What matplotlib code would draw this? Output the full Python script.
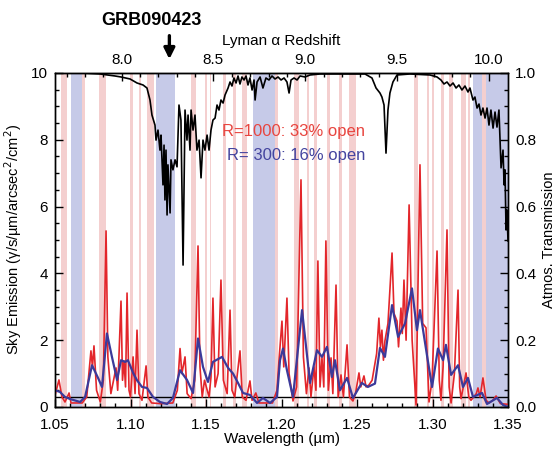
import matplotlib
matplotlib.use("Agg")
import matplotlib.pyplot as plt
from matplotlib.ticker import MultipleLocator, FixedLocator, FormatStrFormatter

plt.rcParams['font.family'] = ['Liberation Sans', 'DejaVu Sans']

# open windows (wavelength ranges, um)
pink_windows = [(1.0540, 1.0579), (1.0679, 1.0699), (1.0791, 1.0838), (1.0997, 1.1017),
                (1.1056, 1.1070), (1.1109, 1.1156), (1.1401, 1.1434), (1.1493, 1.1507),
                (1.1526, 1.1533), (1.1613, 1.1632), (1.1679, 1.1699), (1.1738, 1.1772),
                (1.1957, 1.1977), (1.2083, 1.2116), (1.2169, 1.2182), (1.2215, 1.2235),
                (1.2301, 1.2321), (1.2381, 1.2401), (1.2447, 1.2493), (1.2877, 1.2904),
                (1.2963, 1.2977), (1.2997, 1.3010), (1.3056, 1.3076), (1.3109, 1.3136),
                (1.3189, 1.3222), (1.3235, 1.3248), (1.3328, 1.3354)]
blue_windows = [(1.0606, 1.0679), (1.1169, 1.1295), (1.1811, 1.1957),
                (1.3268, 1.3328), (1.3354, 1.3500)]

# R=1000 sky emission
red_wl = [1.0500, 1.0526, 1.0546, 1.0566, 1.0593, 1.0606, 1.0680, 1.0710, 1.0738, 1.0748,
          1.0758, 1.0775, 1.0800, 1.0820, 1.0838, 1.0850, 1.0870, 1.0904, 1.0915, 1.0937,
          1.0947, 1.0957, 1.0967, 1.0977, 1.0990, 1.1000, 1.1017, 1.1030, 1.1043, 1.1056,
          1.1076, 1.1103, 1.1115, 1.1140, 1.1200, 1.1280, 1.1310, 1.1328, 1.1340, 1.1361,
          1.1375, 1.1401, 1.1425, 1.1447, 1.1460, 1.1475, 1.1490, 1.1520, 1.1533, 1.1546,
          1.1560, 1.1580, 1.1599, 1.1615, 1.1640, 1.1659, 1.1672, 1.1690, 1.1725, 1.1740,
          1.1765, 1.1791, 1.1805, 1.1830, 1.1850, 1.1940, 1.1970, 1.1985, 1.2003, 1.2015,
          1.2036, 1.2050, 1.2076, 1.2100, 1.2129, 1.2145, 1.2165, 1.2182, 1.2195, 1.2215,
          1.2228, 1.2241, 1.2255, 1.2268, 1.2280, 1.2294, 1.2310, 1.2328, 1.2340, 1.2361,
          1.2375, 1.2394, 1.2410, 1.2434, 1.2450, 1.2473, 1.2490, 1.2513, 1.2525, 1.2546,
          1.2560, 1.2579, 1.2600, 1.2630, 1.2645, 1.2655, 1.2665, 1.2675, 1.2685, 1.2705,
          1.2732, 1.2745, 1.2765, 1.2775, 1.2791, 1.2800, 1.2811, 1.2825, 1.2845, 1.2865,
          1.2891, 1.2917, 1.2935, 1.2957, 1.2977, 1.2997, 1.3030, 1.3045, 1.3056, 1.3070,
          1.3096, 1.3110, 1.3123, 1.3145, 1.3169, 1.3180, 1.3189, 1.3222, 1.3240, 1.3255,
          1.3290, 1.3301, 1.3315, 1.3334, 1.3355, 1.3374, 1.3400, 1.3421, 1.3450, 1.3500]
red_flux = [0.35, 0.81, 0.30, 0.15, 0.42, 0.12, 0.12, 0.30, 1.68, 1.20,
            1.83, 0.50, 0.15, 0.80, 5.27, 1.50, 0.40, 1.17, 0.50, 3.17,
            0.80, 1.38, 0.60, 3.41, 0.50, 0.30, 1.50, 0.40, 2.30, 0.40,
            0.20, 1.23, 0.30, 0.12, 0.10, 0.12, 0.50, 1.75, 1.00, 1.50,
            0.40, 0.25, 0.80, 4.82, 1.20, 0.30, 0.80, 0.30, 0.90, 3.26,
            0.60, 1.00, 3.80, 0.80, 0.40, 2.90, 0.50, 0.30, 1.68, 0.30,
            0.20, 0.78, 0.20, 0.42, 0.12, 0.12, 0.50, 1.50, 2.57, 1.20,
            3.26, 1.00, 0.18, 0.60, 6.80, 1.50, 0.40, 1.17, 0.30, 1.20,
            0.50, 4.37, 0.60, 1.47, 0.60, 4.97, 0.50, 1.47, 0.40, 3.65,
            0.30, 0.96, 0.30, 1.86, 0.30, 0.18, 0.40, 1.02, 0.60, 0.93,
            0.60, 0.66, 0.80, 1.60, 2.66, 1.80, 2.30, 1.40, 1.98, 2.50,
            4.61, 2.80, 2.57, 1.80, 2.96, 2.20, 3.80, 2.00, 6.05, 2.00,
            0.06, 7.25, 2.50, 2.37, 0.15, 0.80, 4.67, 0.80, 0.20, 1.20,
            5.30, 0.60, 0.12, 1.00, 3.50, 0.60, 0.25, 1.02, 0.30, 0.20,
            0.40, 0.57, 0.30, 0.87, 0.20, 0.12, 0.20, 0.33, 0.10, 0.08]

# R=300 sky emission
blue_wl = [1.0500, 1.0533, 1.0566, 1.0599, 1.0666, 1.0699, 1.0745, 1.0785, 1.0811, 1.0844,
           1.0877, 1.0911, 1.0937, 1.0964, 1.0983, 1.1017, 1.1043, 1.1076, 1.1109, 1.1149,
           1.1195, 1.1242, 1.1281, 1.1328, 1.1374, 1.1414, 1.1447, 1.1480, 1.1513, 1.1546,
           1.1606, 1.1646, 1.1679, 1.1712, 1.1745, 1.1791, 1.1838, 1.1877, 1.1924, 1.1970,
           1.1990, 1.2010, 1.2036, 1.2076, 1.2136, 1.2189, 1.2235, 1.2268, 1.2301, 1.2334,
           1.2354, 1.2387, 1.2434, 1.2473, 1.2532, 1.2572, 1.2619, 1.2652, 1.2685, 1.2732,
           1.2772, 1.2818, 1.2864, 1.2897, 1.2917, 1.2963, 1.2997, 1.3036, 1.3070, 1.3089,
           1.3123, 1.3169, 1.3202, 1.3235, 1.3268, 1.3328, 1.3361, 1.3427, 1.3467, 1.3500]
blue_flux = [0.50, 0.45, 0.30, 0.24, 0.15, 0.30, 1.25, 0.87, 0.60, 2.20,
             1.50, 0.81, 1.40, 1.35, 1.40, 1.02, 0.80, 0.60, 0.57, 0.30,
             0.15, 0.09, 0.27, 1.10, 0.81, 0.42, 2.05, 1.20, 0.75, 1.35,
             1.50, 1.17, 1.00, 0.72, 0.42, 0.36, 0.12, 0.27, 0.12, 0.30,
             1.40, 1.75, 1.10, 0.30, 2.90, 0.72, 1.70, 1.50, 1.80, 0.90,
             1.40, 0.50, 0.87, 0.27, 0.72, 0.60, 0.70, 1.77, 1.50, 3.05,
             2.10, 2.50, 3.55, 2.30, 2.90, 1.56, 0.60, 1.75, 1.40, 1.86,
             0.96, 1.25, 0.60, 0.87, 0.30, 0.42, 0.09, 0.27, 0.06, 0.00]

# atmospheric transmission
trans_wl = [1.0500, 1.0666, 1.0798, 1.0897, 1.0937, 1.0997, 1.1043, 1.1083, 1.1109, 1.1129,
            1.1142, 1.1162, 1.1169, 1.1182, 1.1195, 1.1202, 1.1215, 1.1222, 1.1228, 1.1235,
            1.1242, 1.1248, 1.1262, 1.1268, 1.1281, 1.1295, 1.1308, 1.1321, 1.1334, 1.1348,
            1.1361, 1.1374, 1.1381, 1.1394, 1.1401, 1.1414, 1.1427, 1.1440, 1.1454, 1.1467,
            1.1480, 1.1493, 1.1507, 1.1520, 1.1533, 1.1546, 1.1560, 1.1573, 1.1586, 1.1599,
            1.1613, 1.1626, 1.1646, 1.1659, 1.1672, 1.1685, 1.1699, 1.1712, 1.1725, 1.1738,
            1.1752, 1.1765, 1.1778, 1.1791, 1.1805, 1.1818, 1.1825, 1.1838, 1.1858, 1.1877,
            1.1897, 1.1917, 1.1937, 1.1957, 1.1977, 1.1997, 1.2017, 1.2036, 1.2050, 1.2063,
            1.2083, 1.2103, 1.2123, 1.2156, 1.2189, 1.2255, 1.2387, 1.2553, 1.2599, 1.2626,
            1.2652, 1.2665, 1.2679, 1.2692, 1.2705, 1.2718, 1.2738, 1.2765, 1.2851, 1.2983,
            1.3030, 1.3056, 1.3076, 1.3096, 1.3116, 1.3136, 1.3156, 1.3175, 1.3195, 1.3215,
            1.3235, 1.3248, 1.3268, 1.3281, 1.3295, 1.3308, 1.3321, 1.3334, 1.3348, 1.3361,
            1.3374, 1.3387, 1.3401, 1.3414, 1.3427, 1.3440, 1.3447, 1.3454, 1.3467, 1.3474,
            1.3480, 1.3487, 1.3493, 1.3500]
trans = [1.000, 1.000, 0.997, 0.991, 0.988, 0.982, 0.970, 0.964, 0.955, 0.919,
         0.874, 0.844, 0.799, 0.829, 0.769, 0.814, 0.665, 0.784, 0.620, 0.769,
         0.575, 0.725, 0.581, 0.740, 0.710, 0.740, 0.719, 0.904, 0.859, 0.425,
         0.889, 0.799, 0.874, 0.769, 0.889, 0.829, 0.874, 0.769, 0.799, 0.686,
         0.799, 0.769, 0.814, 0.769, 0.829, 0.859, 0.865, 0.904, 0.889, 0.919,
         0.910, 0.934, 0.955, 0.973, 0.961, 0.985, 0.970, 0.991, 0.967, 0.988,
         0.979, 0.991, 0.964, 0.985, 0.949, 0.979, 0.919, 0.973, 0.988, 0.955,
         0.985, 0.979, 0.991, 0.982, 0.988, 0.979, 0.985, 0.973, 0.940, 0.979,
         0.985, 0.979, 0.991, 0.988, 0.994, 0.997, 0.997, 0.997, 0.985, 0.955,
         0.940, 0.928, 0.904, 0.760, 0.889, 0.940, 0.973, 0.994, 0.997, 0.994,
         0.988, 0.979, 0.967, 0.973, 0.961, 0.970, 0.955, 0.964, 0.949, 0.961,
         0.943, 0.955, 0.919, 0.928, 0.895, 0.907, 0.874, 0.895, 0.865, 0.895,
         0.844, 0.889, 0.835, 0.883, 0.838, 0.889, 0.799, 0.716, 0.769, 0.665,
         0.710, 0.530, 0.590, 0.497]

redshift_ticks = [8.0, 8.5, 9.0, 9.5, 10.0]

sky_level = 0.3
grb_redshift = 8.26
lya = 0.12157

red_c = '#e3262b'
blue_c = '#3c3a9a'

fig = plt.figure(figsize=(5.58, 4.51), dpi=100)
ax = fig.add_axes([0.0986, 0.0976, 0.8118, 0.7406])

for lo, hi in pink_windows:
    ax.axvspan(lo, hi, color='#f4cfcf', lw=0, zorder=0)
for lo, hi in blue_windows:
    ax.axvspan(lo, hi, color='#c6cae8', lw=0, zorder=0)

ax.axhline(sky_level, color='black', lw=1.0, zorder=2)
ax.plot(red_wl, red_flux, color=red_c, lw=1.2, zorder=3)
ax.plot(blue_wl, blue_flux, color=blue_c, lw=1.6, zorder=4)

ax.set_xlim(1.05, 1.35)
ax.set_ylim(0, 10)
ax.xaxis.set_major_locator(MultipleLocator(0.05))
ax.xaxis.set_minor_locator(MultipleLocator(0.01))
ax.xaxis.set_major_formatter(FormatStrFormatter('%.2f'))
ax.yaxis.set_major_locator(MultipleLocator(2))
ax.yaxis.set_minor_locator(MultipleLocator(0.5))
ax.tick_params(which='both', direction='in', labelsize=11, bottom=True, top=False, left=True, right=False)
ax.tick_params(axis='x', which='major', pad=8)
ax.tick_params(axis='y', which='major', pad=5)
ax.tick_params(which='major', length=6, width=1)
ax.tick_params(which='minor', length=3, width=1)
ax.set_xlabel('Wavelength (\u00b5m)', fontsize=11, labelpad=0)
ax.set_ylabel('Sky Emission (\u03b3/s/\u00b5m/arcsec$^2$/cm$^2$)', fontsize=10.5, labelpad=5)

ax2 = ax.twinx()
ax2.plot(trans_wl, trans, color='black', lw=1.2, zorder=5)
ax2.set_ylim(0, 1)
ax2.yaxis.set_major_locator(MultipleLocator(0.2))
ax2.yaxis.set_minor_locator(MultipleLocator(0.05))
ax2.yaxis.set_major_formatter(FormatStrFormatter('%.1f'))
ax2.tick_params(which='both', direction='in', labelsize=11)
ax2.tick_params(which='major', length=6, width=1, pad=5)
ax2.tick_params(which='minor', length=3, width=1)
ax2.set_ylabel('Atmos. Transmission', fontsize=10.5, labelpad=4)

top = ax.secondary_xaxis('top', functions=(lambda w: w / lya - 1, lambda z: (z + 1) * lya))
top.xaxis.set_major_locator(FixedLocator(redshift_ticks))
top.xaxis.set_minor_locator(FixedLocator([7.7 + 0.1 * i for i in range(24)]))
top.xaxis.set_major_formatter(FormatStrFormatter('%.1f'))
top.tick_params(which='both', direction='in', labelsize=11, pad=4)
top.tick_params(which='major', length=6, width=1)
top.tick_params(which='minor', length=3, width=1)
top.set_xlabel('Lyman \u03b1 Redshift', fontsize=11, labelpad=6)

for a in (ax, ax2):
    for s in a.spines.values():
        s.set_linewidth(1.0)

ax.text(1.2555, 8.1, 'R=1000: 33% open', color='#e8453f', fontsize=12, ha='right', zorder=6)
ax.text(1.2555, 7.4, 'R= 300: 16% open', color='#44449f', fontsize=12, ha='right', zorder=6)

grb_wl = (grb_redshift + 1) * lya
ax.annotate('', xy=(grb_wl, 10.33), xytext=(grb_wl, 11.2), xycoords='data',
            annotation_clip=False,
            arrowprops=dict(arrowstyle='-|>', color='black', lw=2.4, mutation_scale=16))
fig.text(0.272, 0.955, 'GRB090423', fontsize=13, fontweight='bold', ha='center', va='center')

fig.savefig('out.png', dpi=100)
